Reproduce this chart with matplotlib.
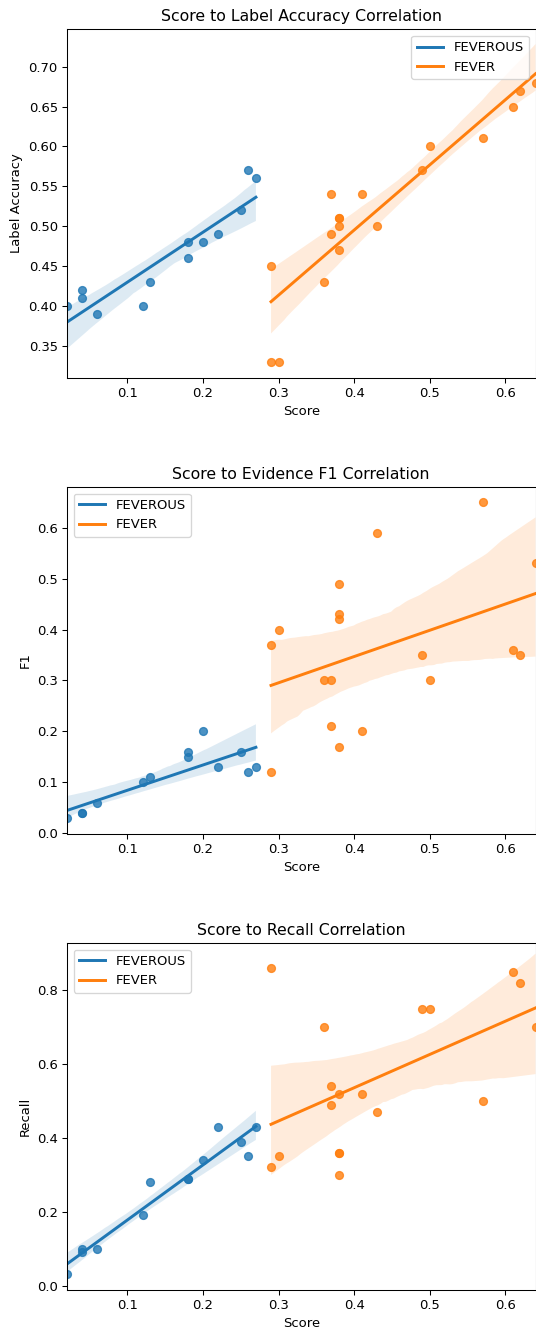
import matplotlib
matplotlib.use("Agg")
import matplotlib.pyplot as plt
import seaborn as sns
import numpy as np

# scores per system (shared by the three metrics)
feverous_score = [0.02, 0.04, 0.04, 0.06, 0.12, 0.13, 0.18, 0.18, 0.20, 0.22, 0.25, 0.26, 0.27]
fever_score = [0.29, 0.29, 0.30, 0.36, 0.37, 0.37, 0.38, 0.38, 0.38, 0.38,
               0.41, 0.43, 0.49, 0.50, 0.57, 0.61, 0.62, 0.64]

# label accuracy
feverous_acc = [0.40, 0.42, 0.41, 0.39, 0.40, 0.43, 0.48, 0.46, 0.48, 0.49, 0.52, 0.57, 0.56]
fever_acc = [0.45, 0.33, 0.33, 0.43, 0.54, 0.49, 0.51, 0.51, 0.50, 0.47,
             0.54, 0.50, 0.57, 0.60, 0.61, 0.65, 0.67, 0.68]

# evidence F1
feverous_f1 = [0.03, 0.04, 0.04, 0.06, 0.10, 0.11, 0.16, 0.15, 0.20, 0.13, 0.16, 0.12, 0.13]
fever_f1 = [0.37, 0.12, 0.40, 0.30, 0.30, 0.21, 0.49, 0.43, 0.42, 0.17,
            0.20, 0.59, 0.35, 0.30, 0.65, 0.36, 0.35, 0.53]

# evidence recall
feverous_recall = [0.03, 0.10, 0.09, 0.10, 0.19, 0.28, 0.29, 0.29, 0.34, 0.43, 0.39, 0.35, 0.43]
fever_recall = [0.86, 0.32, 0.35, 0.70, 0.54, 0.49, 0.52, 0.36, 0.36, 0.30,
                0.52, 0.47, 0.75, 0.75, 0.50, 0.85, 0.82, 0.70]

titles = ["Score to Label Accuracy Correlation",
          "Score to Evidence F1 Correlation",
          "Score to Recall Correlation"]
ylabels = ["Label Accuracy", "F1", "Recall"]
metrics = [(feverous_acc, fever_acc), (feverous_f1, fever_f1), (feverous_recall, fever_recall)]
ylims = [(0.3104, 0.7467), (-0.0015, 0.68), (-0.012, 0.928)]
legend_loc = ["upper right", "upper left", "upper left"]

DPI = 94.4
fig = plt.figure(figsize=(536 / DPI, 1328 / DPI), dpi=DPI)

# axes boxes in pixels (left, top, right, bottom)
boxes = [(67, 29.3, 535.5, 377.7), (67, 487, 535.5, 834), (67, 943, 535.5, 1290)]

for i in range(3):
    l, t, r, b = boxes[i]
    ax = fig.add_axes([l / 536, 1 - b / 1328, (r - l) / 536, (b - t) / 1328])
    y_feverous, y_fever = metrics[i]
    sns.regplot(x=np.array(feverous_score), y=np.array(y_feverous), ax=ax, color="C0",
                seed=1, line_kws={"label": "FEVEROUS"})
    sns.regplot(x=np.array(fever_score), y=np.array(y_fever), ax=ax, color="C1",
                seed=1, line_kws={"label": "FEVER"})
    ax.set_xlim(0.02, 0.64)
    ax.set_ylim(*ylims[i])
    ax.set_title(titles[i])
    ax.set_xlabel("Score")
    ax.set_ylabel(ylabels[i])
    ax.legend(loc=legend_loc[i])

fig.savefig("out.png", dpi=DPI)
